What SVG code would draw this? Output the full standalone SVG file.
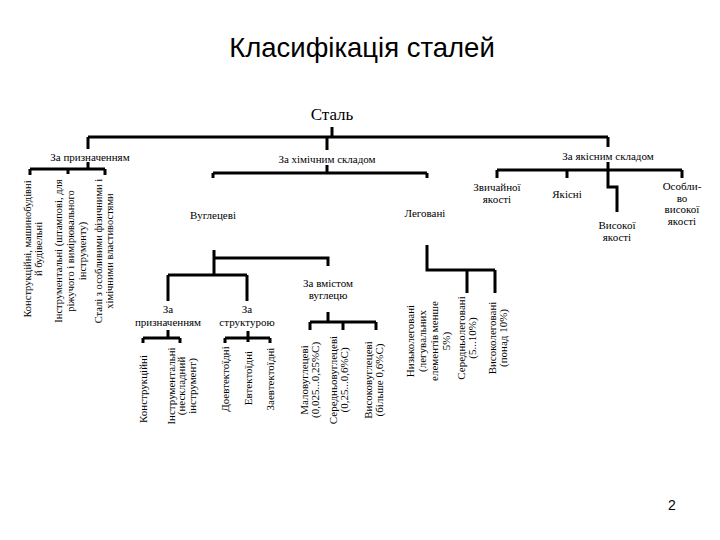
<svg xmlns="http://www.w3.org/2000/svg" width="720" height="540" viewBox="0 0 720 540">
<style>
.t{font-family:"Liberation Serif","Times New Roman",serif;font-size:11px;fill:#000;text-anchor:middle}
.s{font-size:10.5px}
.big{font-family:"Liberation Sans",Arial,sans-serif;font-size:27.5px;fill:#000;text-anchor:middle}
.root{font-family:"Liberation Serif","Times New Roman",serif;font-size:17px;fill:#000;text-anchor:middle}
.pg{font-family:"Liberation Sans",Arial,sans-serif;font-size:14px;fill:#000;text-anchor:middle}
.c{stroke:#000;stroke-width:3;fill:none}
</style>
<rect width="720" height="540" fill="#fff"/>
<text class="big" x="362" y="57">Класифікація сталей</text>
<g id="connectors">
<path class="c" d="M332,127V137M88,137H608M88,137V149M327,137V150M608,137V147"/>
<path class="c" d="M88,162V169M30,169H105M30,169V175M68,169V174M105,169V175"/>
<path class="c" d="M327,165V173M213,173H427M213,173V178M427,173V178"/>
<path class="c" d="M608,162V187H617V212M497,170H682M497,170V178M567,170V178M682,170V178"/>
<path class="c" d="M214,250V275M214,258H328V266M168,275H247M168,275V301M247,275V301"/>
<path class="c" d="M168,330V338M143,338H180M143,338V343M180,338V343"/>
<path class="c" d="M248,331V342M225,338H270M225,338V343M270,338V343"/>
<path class="c" d="M328,312V322M310,322H376M310,322V330M343,322V330M376,322V330"/>
<path class="c" d="M427,245V270H495M467,270V293M495,270V293"/>
</g>
<g id="n-stal"><text class="root" x="332" y="120">Сталь</text></g>
<g id="n-purpose"><text class="t" x="90" y="161">За призначенням</text></g>
<g id="n-chem"><text class="t" x="327" y="163">За хімічним складом</text></g>
<g id="n-quality"><text class="t" x="608" y="160">За якісним складом</text></g>
<g id="n-p1"><text class="t s" transform="translate(30.5,249) rotate(-90)"><tspan x="0" dy="0">Конструкційні, машинобудівні</tspan><tspan x="0" dy="11.5">й будівельні</tspan></text></g>
<g id="n-p2"><text class="t s" transform="translate(61.5,251) rotate(-90)"><tspan x="0" dy="0">Інструментальні (штампові, для</tspan><tspan x="0" dy="12">ріжучого і вимірювального</tspan><tspan x="0" dy="12">інструменту)</tspan></text></g>
<g id="n-p3"><text class="t s" transform="translate(101.5,251) rotate(-90)"><tspan x="0" dy="0">Сталі з особливими фізичними і</tspan><tspan x="0" dy="11.5">хімічними властивостями</tspan></text></g>
<g id="n-carbon"><text class="t" x="213" y="219">Вуглецеві</text></g>
<g id="n-alloy"><text class="t" x="425" y="217">Леговані</text></g>
<g id="n-q1"><text class="t" x="497" y="191"><tspan x="497" dy="0">Звичайної</tspan><tspan x="497" dy="12">якості</tspan></text></g>
<g id="n-q2"><text class="t" x="567" y="198">Якісні</text></g>
<g id="n-q3"><text class="t" x="617" y="229"><tspan x="617" dy="0">Високої</tspan><tspan x="617" dy="12">якості</tspan></text></g>
<g id="n-q4"><text class="t" x="682" y="190"><tspan x="682" dy="0">Особли-</tspan><tspan x="682" dy="11.7">во</tspan><tspan x="682" dy="11.7">високої</tspan><tspan x="682" dy="11.7">якості</tspan></text></g>
<g id="n-cpurpose"><text class="t" x="168" y="313"><tspan x="168" dy="0">За</tspan><tspan x="168" dy="13">призначенням</tspan></text></g>
<g id="n-cstruct"><text class="t" x="247" y="313"><tspan x="247" dy="0">За</tspan><tspan x="247" dy="13">структурою</tspan></text></g>
<g id="n-ccontent"><text class="t" x="328" y="287"><tspan x="328" dy="0">За вмістом</tspan><tspan x="328" dy="11.5">вуглецю</tspan></text></g>
<g id="n-cp1"><text class="t" transform="translate(146.5,389) rotate(-90)">Конструкційні</text></g>
<g id="n-cp2"><text class="t" transform="translate(174.5,386) rotate(-90)"><tspan x="0" dy="0">Інструментальні</tspan><tspan x="0" dy="10.5">(нескладний</tspan><tspan x="0" dy="10.5">інструмент)</tspan></text></g>
<g id="n-cs1"><text class="t" transform="translate(228.5,379) rotate(-90)">Доевтектоїдні</text></g>
<g id="n-cs2"><text class="t" transform="translate(251.5,378) rotate(-90)">Евтектоїдні</text></g>
<g id="n-cs3"><text class="t" transform="translate(273.5,379) rotate(-90)">Заевтектоїдні</text></g>
<g id="n-cc1"><text class="t" transform="translate(307.5,380) rotate(-90)"><tspan x="0" dy="0">Маловуглецеві</tspan><tspan x="0" dy="11">(0,025...0,25%С)</tspan></text></g>
<g id="n-cc2"><text class="t" transform="translate(336.5,380) rotate(-90)"><tspan x="0" dy="0">Середньовуглецеві</tspan><tspan x="0" dy="11">(0,25...0,6%С)</tspan></text></g>
<g id="n-cc3"><text class="t" transform="translate(371.5,380) rotate(-90)"><tspan x="0" dy="0">Високовуглецеві</tspan><tspan x="0" dy="11">(більше 0,6%С)</tspan></text></g>
<g id="n-a1"><text class="t" transform="translate(413.5,341) rotate(-90)"><tspan x="0" dy="0">Низьколеговані</tspan><tspan x="0" dy="12">(легувальних</tspan><tspan x="0" dy="12">елементів менше</tspan><tspan x="0" dy="12">5%)</tspan></text></g>
<g id="n-a2"><text class="t" transform="translate(464.5,338) rotate(-90)"><tspan x="0" dy="0">Середньолеговані</tspan><tspan x="0" dy="11">(5...10%)</tspan></text></g>
<g id="n-a3"><text class="t" transform="translate(495.5,338) rotate(-90)"><tspan x="0" dy="0">Високолеговані</tspan><tspan x="0" dy="11">(понад 10%)</tspan></text></g>
<text class="pg" x="672" y="510">2</text>
</svg>
